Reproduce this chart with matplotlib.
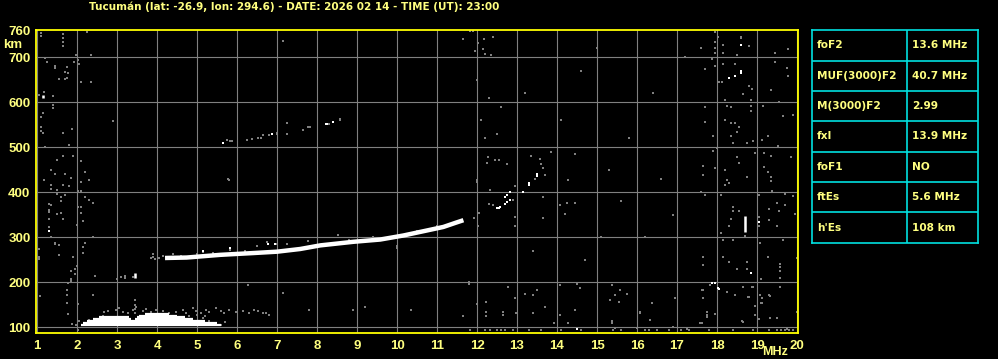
import matplotlib
matplotlib.use("Agg")
import matplotlib.pyplot as plt

# ionogram echoes (frequency MHz, virtual height km)
title = "Tucumán (lat: -26.9, lon: 294.6) - DATE: 2026 02 14 - TIME (UT): 23:00"
freq_ticks = list(range(1, 21))
height_ticks = [100, 200, 300, 400, 500, 600, 700, 760]

trace_f = [4.2, 4.74, 5.58, 6.41, 7.0, 7.58, 8.08, 8.91, 9.58, 10.16, 10.74, 11.16, 11.49, 11.66]
trace_h = [254, 255, 261, 265, 268, 274, 282, 290, 295, 304, 315, 323, 333, 338]

# sporadic E block: (f start, f end, height)
es_bars = [(2.1, 5.6, 106), (2.15, 5.5, 110), (2.25, 5.2, 114), (2.4, 3.35, 118),
           (3.45, 4.9, 118), (2.55, 3.3, 122), (3.5, 4.7, 122), (3.55, 4.5, 126), (3.7, 4.3, 130)]

# short vertical white echoes: (f, h bottom, h top)
white_bars = [(18.7, 311, 347), (3.45, 210, 220), (1.14, 609, 617)]

white_pts = [(1.29, 313),
             (5.66, 509), (6.87, 529), (8.22, 551), (8.26, 551), (8.41, 557),
             (5.16, 270), (5.83, 277), (6.78, 285), (6.95, 285),
             (12.49, 364), (12.55, 366), (12.58, 368), (12.7, 375), (12.76, 379), (12.83, 383),
             (12.7, 390), (12.76, 395), (12.83, 401), (13.16, 401), (13.31, 416), (13.31, 420),
             (13.49, 436), (13.49, 440),
             (18.59, 727), (18.59, 666), (18.59, 670), (18.45, 658), (18.3, 655),
             (19.04, 333), (18.84, 221), (17.95, 199), (18.05, 186), (14.49, 96),
             (17.87, 198), (18.03, 187)]

gray_pts = [
    # left columns
    (1.09, 754), (1.09, 748), (1.64, 752), (1.64, 743), (1.64, 734), (1.64, 725), (2.24, 757),
    (1.98, 704), (2.02, 693), (2.04, 685), (1.93, 689), (2.35, 704), (1.21, 698), (1.24, 689),
    (1.44, 681), (1.44, 677), (1.74, 678), (1.71, 668), (1.78, 666), (1.70, 651), (1.75, 655), (1.54, 651),
    (2.10, 644), (2.35, 644), (1.06, 616), (1.18, 622), (1.39, 614), (1.39, 593), (1.39, 588),
    (1.14, 577), (1.09, 567), (2.89, 558), (1.09, 545), (1.16, 531), (1.09, 537), (1.875, 541),
    (1.64, 531), (1.79, 504), (1.19, 500), (1.49, 472), (1.64, 481), (1.89, 481), (2.10, 469),
    (1.35, 450), (1.44, 441), (1.71, 441), (1.85, 431), (2.20, 446), (1.18, 428), (2.31, 428),
    (1.35, 416), (1.64, 416), (1.81, 413), (2.10, 422), (1.35, 408), (1.49, 405), (1.49, 396),
    (1.60, 390), (1.71, 394), (1.60, 381), (2.02, 403), (2.10, 403), (2.20, 390), (2.31, 383),
    (2.39, 377), (1.31, 375), (1.35, 372), (1.29, 360), (1.29, 356), (1.49, 351), (1.60, 354),
    (2.02, 368), (2.10, 368), (2.10, 354), (1.29, 340), (1.64, 340), (2.14, 336), (1.29, 323),
    (1.99, 327), (1.35, 301), (2.39, 301), (1.44, 288), (1.44, 284), (1.54, 282), (1.04, 273),
    (1.04, 256), (1.04, 252), (1.54, 260), (1.89, 256), (2.20, 288), (2.14, 278), (2.14, 265),
    (1.85, 225), (1.96, 230), (1.96, 219), (1.99, 237), (1.85, 207), (1.85, 203), (2.44, 215),
    (5.81, 428), (5.77, 430), (1.075, 170), (1.74, 182), (1.74, 172), (1.74, 155), (2.03, 152),
    (2.39, 172), (1.78, 198), (1.78, 130), (2.03, 93), (3.0, 208), (3.1, 212), (3.2, 215),
    (3.2, 209), (3.4, 212),
    # second hop F trace
    (5.74, 517), (5.83, 513), (5.88, 513), (6.24, 517), (6.37, 519), (6.53, 520), (6.6, 520),
    (6.64, 527), (6.81, 528), (7.01, 529), (7.01, 532), (7.24, 553), (7.24, 530), (7.66, 539),
    (7.77, 545), (7.82, 545), (8.30, 552), (8.58, 561), (8.58, 563),
    # around main trace
    (3.85, 254), (3.9, 257), (3.95, 251), (4.05, 255), (4.15, 258), (3.91, 262), (4.41, 262),
    (5.16, 268), (5.83, 272), (6.49, 281), (6.74, 289), (7.0, 285), (7.24, 285), (7.78, 292),
    (8.53, 304), (9.99, 277), (9.99, 281), (4.6, 259), (5.0, 262), (5.4, 265), (6.2, 270),
    (8.8, 295), (9.4, 300), (10.5, 315), (11.0, 326),
    # sporadic E speckle
    (2.68, 133), (2.77, 136), (2.98, 138), (3.06, 142), (3.16, 135), (3.27, 131), (3.39, 138),
    (3.48, 144), (3.64, 136), (3.73, 141), (3.85, 135), (3.98, 138), (4.14, 136), (4.31, 131),
    (4.48, 135), (4.64, 138), (4.73, 131), (4.89, 142), (4.98, 136), (5.1, 131), (5.23, 138),
    (5.31, 133), (5.48, 142), (5.6, 136), (5.68, 131), (5.81, 138), (5.98, 135), (6.14, 136),
    (6.31, 131), (6.43, 138), (6.52, 136), (6.64, 131), (6.72, 131), (6.81, 127),
    (2.31, 116), (2.64, 124), (3.48, 118), (3.81, 127), (4.48, 120), (4.81, 124), (5.14, 120),
    (5.31, 114), (5.48, 109), (5.2, 125), (5.0, 128), (5.7, 112), (5.6, 105),
    (2.9, 112), (3.1, 108), (3.6, 113), (4.0, 110), (4.2, 117), (4.6, 108), (5.0, 113),
    (1.875, 107), (1.975, 104), (2.04, 113), (3.45, 131), (3.45, 140), (3.45, 150), (3.45, 160),
    # mid band scatter
    (7.14, 737), (7.14, 177), (6.28, 194), (7.8, 138), (8.9, 138), (9.2, 144), (10.36, 138),
    (11.64, 126), (11.99, 152), (11.79, 196), (11.79, 200), (12.22, 157), (12.22, 133),
    (12.22, 126), (11.83, 93), (12.2, 93), (12.33, 93), (12.5, 93),
    (11.64, 741), (11.83, 759), (11.9, 759), (12.03, 732), (12.18, 741), (12.39, 746),
    (12.14, 718), (11.95, 715), (12.2, 707), (12.34, 704),
    (12.28, 478), (12.45, 472), (12.56, 472), (12.24, 466), (12.74, 463), (13.34, 481),
    (13.58, 475), (13.6, 463), (13.64, 455), (13.7, 438), (13.45, 429), (13.85, 490),
    (14.45, 485), (14.28, 427), (12.33, 404), (12.95, 414), (13.64, 390), (14.24, 377),
    (14.45, 377), (14.08, 372), (14.2, 352), (13.64, 342), (12.95, 346), (12.95, 324),
    (11.93, 342), (12.06, 355), (12.03, 324), (12.31, 374), (12.41, 372), (12.91, 383),
    (11.99, 427), (11.99, 422), (12.1, 560), (12.3, 610), (12.0, 650), (12.5, 530),
    (12.6, 590), (12.2, 520), (13.2, 620), (14.1, 560), (14.6, 670), (15.3, 450),
    (15.6, 380), (15.8, 520), (16.2, 300), (16.6, 430), (16.9, 350), (15.1, 300),
    (14.7, 250), (13.4, 270), (16.4, 620), (17.2, 700), (15.0, 720),
    # bottom right
    (12.78, 190), (12.95, 164), (12.64, 135), (12.64, 127), (12.98, 131), (13.2, 175),
    (13.39, 172), (13.49, 183), (13.7, 144), (13.39, 131), (14.08, 194), (14.49, 196),
    (14.58, 187), (14.45, 138), (14.08, 127), (13.93, 109), (14.28, 109), (15.37, 194),
    (15.45, 172), (15.575, 183), (15.74, 175), (15.56, 157), (15.33, 160), (15.37, 110),
    (15.37, 114), (16.08, 135), (16.08, 131), (16.37, 153), (16.33, 116), (16.95, 164),
    (17.62, 183), (17.64, 164), (18.24, 179), (18.64, 190), (18.88, 190), (18.45, 172),
    (18.78, 168), (19.08, 172), (19.33, 170), (19.58, 190), (18.95, 147), (19.1, 153),
    (19.49, 120), (19.99, 133), (17.74, 127), (17.575, 110), (18.62, 113), (15.45, 98),
    (15.99, 98), (16.91, 101), (17.24, 96),
    (12.6, 93), (12.7, 93), (12.9, 93), (13.3, 93), (13.6, 93), (14.1, 93), (14.6, 93),
    (15.4, 93), (15.6, 93), (16.2, 93), (16.3, 93), (16.5, 93), (16.8, 93), (17.1, 93),
    (17.3, 93), (17.8, 93), (18.4, 93), (18.9, 93), (19.3, 93), (19.5, 93), (19.7, 93),
    (19.8, 93), (19.9, 93), (19.6, 95), (19.75, 96),
    # right columns
    (18.59, 746), (18.59, 742), (17.95, 757), (17.95, 735), (17.95, 720), (17.95, 710),
    (18.03, 746), (18.14, 727), (18.14, 709), (18.49, 705), (18.8, 724), (19.45, 710),
    (19.78, 718), (17.6, 720), (17.87, 696), (18.14, 685), (18.45, 685), (17.95, 681),
    (17.7, 673), (18.12, 646), (18.06, 646), (18.8, 636), (18.87, 629), (18.64, 618),
    (18.85, 605), (19.34, 627), (19.45, 690), (19.74, 676), (19.78, 658), (18.2, 605),
    (19.56, 601), (18.24, 592), (18.34, 590), (18.84, 592), (18.84, 581), (19.16, 592),
    (17.7, 589), (19.64, 570), (19.89, 572), (18.2, 561), (18.34, 553), (18.45, 553),
    (18.56, 546), (18.49, 535), (17.7, 557), (17.89, 525), (18.34, 525), (18.39, 509),
    (18.74, 510), (18.89, 513), (19.28, 525), (19.12, 516), (19.53, 503), (19.18, 488),
    (19.34, 481), (19.84, 478), (17.89, 492), (17.99, 498), (18.95, 488), (18.49, 478),
    (18.56, 466), (17.64, 458), (17.95, 453), (18.2, 450), (17.64, 438), (18.24, 427),
    (18.31, 421), (18.2, 416), (18.74, 433), (19.18, 456), (19.28, 446), (19.34, 435),
    (19.34, 425), (19.37, 403), (17.6, 401), (17.7, 394), (18.09, 394), (19.06, 394),
    (19.7, 396), (19.89, 392), (19.49, 377), (18.39, 368), (18.39, 359), (18.56, 359),
    (19.31, 362), (19.56, 358), (19.95, 352), (19.7, 372), (19.06, 346), (19.06, 324),
    (18.34, 341), (18.31, 324), (19.31, 339), (19.49, 324), (18.09, 310), (18.7, 302),
    (18.14, 293), (18.39, 293), (19.08, 287), (19.64, 293), (17.64, 257), (17.64, 238),
    (18.14, 257), (18.31, 244), (18.49, 229), (18.74, 244), (18.74, 229), (19.09, 207),
    (19.28, 257), (19.58, 241), (19.58, 233), (19.58, 225), (19.58, 209), (19.99, 253),
    (17.83, 194), (17.64, 183), (17.64, 164), (18.24, 179), (18.64, 190), (18.89, 190),
    (19.58, 190), (18.8, 168), (19.31, 172), (19.12, 164), (19.12, 155), (18.95, 147),
    (18.95, 127), (17.74, 133), (17.74, 122), (17.95, 130), (17.62, 110), (18.64, 112),
    (19.06, 118), (19.33, 120), (19.49, 120), (19.99, 133),
]

params = ["foF2", "MUF(3000)F2", "M(3000)F2", "fxI", "foF1", "ftEs", "h'Es"]
values = ["13.6 MHz", "40.7 MHz", "2.99", "13.9 MHz", "NO", "5.6 MHz", "108 km"]

yellow = "#ffff80"
font = "Liberation Sans"
wide = "DejaVu Sans"

fig = plt.figure(figsize=(9.98, 3.59), dpi=100, facecolor="black")
ax = fig.add_axes([0.0361, 0.0733, 0.7635, 0.8423], facecolor="black")

ax.set_xlim(0.975, 20.025)
ax.set_ylim(88, 760)
for f in freq_ticks:
    ax.axvline(f, color="#808080", lw=0.8, zorder=1)
for h in height_ticks[:-1]:
    ax.axhline(h, color="#808080", lw=0.8, zorder=1)

gf = [p[0] for p in gray_pts]
gh = [p[1] for p in gray_pts]
ax.scatter(gf, gh, marker="s", s=2.6, color="#808080", linewidths=0, zorder=2)

for f0, f1, h in es_bars:
    ax.hlines(h, f0, f1, color="white", lw=1.6, zorder=3)
for f, h0, h1 in white_bars:
    ax.vlines(f, h0, h1, color="white", lw=1.8, zorder=4)
ax.plot(trace_f, trace_h, color="white", lw=3.2, solid_capstyle="butt", zorder=3)
wf = [p[0] for p in white_pts]
wh = [p[1] for p in white_pts]
ax.scatter(wf, wh, marker="s", s=4, color="white", linewidths=0, zorder=4)

for s in ax.spines.values():
    s.set_color("#ffff00")
    s.set_linewidth(1.3)

ax.set_xticks(freq_ticks)
ax.set_yticks(height_ticks)
ax.tick_params(length=0, colors=yellow, labelsize=9.5)
ax.tick_params(axis="x", pad=5)
ax.tick_params(axis="y", pad=4)
for lab in ax.get_xticklabels() + ax.get_yticklabels():
    lab.set_fontfamily(font)
    lab.set_fontweight("bold")

fig.text(13 / 998, 1 - 45 / 359, "km", color=yellow, fontsize=9.5, fontweight="bold",
         family=font, ha="center", va="center")
fig.text(788 / 998, 1 - 352 / 359, "MHz", color=yellow, fontsize=9, fontweight="bold",
         family=font, ha="right", va="center")
fig.text(294 / 998, 1 - 7 / 359, title, color=yellow, fontsize=7.5, fontweight="bold",
         family=wide, ha="center", va="center")

# parameter table
tab = fig.add_axes([0.8139, 0.3240, 0.1657, 0.5916], facecolor="black")
tab.set_xlim(0, 1)
tab.set_ylim(len(params), 0)
tab.set_xticks([])
tab.set_yticks([])
for s in tab.spines.values():
    s.set_color("#00e0e0")
    s.set_linewidth(1.2)
for i in range(1, len(params)):
    tab.axhline(i, color="#00e0e0", lw=1.2)
tab.axvline(0.574, color="#00e0e0", lw=1.2)
for i, (p, v) in enumerate(zip(params, values)):
    tab.text(0.03, i + 0.5, p, color=yellow, fontsize=7.6, fontweight="bold", family=wide,
             va="center", ha="left")
    tab.text(0.605, i + 0.5, v, color=yellow, fontsize=7.6, fontweight="bold", family=wide,
             va="center", ha="left")

fig.savefig("out.png", dpi=100, facecolor="black")
